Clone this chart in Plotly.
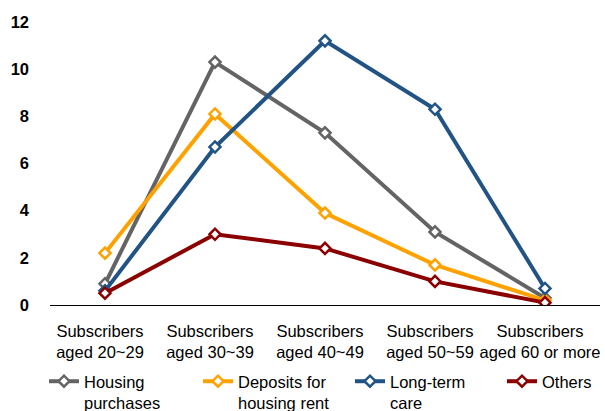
import plotly.graph_objects as go

# Age groups on the x axis
categories = [
    "Subscribers<br>aged 20~29",
    "Subscribers<br>aged 30~39",
    "Subscribers<br>aged 40~49",
    "Subscribers<br>aged 50~59",
    "Subscribers<br>aged 60 or more",
]

# Values per purpose of withdrawal
housing_purchases = [0.9, 10.3, 7.3, 3.1, 0.3]
deposits_housing_rent = [2.2, 8.1, 3.9, 1.7, 0.2]
long_term_care = [0.6, 6.7, 11.2, 8.3, 0.7]
others = [0.5, 3.0, 2.4, 1.0, 0.1]

series_names = ["Housing<br>purchases", "Deposits for<br>housing rent", "Long-term<br>care", "Others"]
series_values = [housing_purchases, deposits_housing_rent, long_term_care, others]
series_colors = ["#646464", "#FFA200", "#215485", "#8B0000"]

y_ticks = [0, 2, 4, 6, 8, 10, 12]

FONT = "Liberation Sans, Arial, sans-serif"

# each legend entry sits in its own legend box so the spacing can be set per item
legend_ids = ["legend", "legend2", "legend3", "legend4"]
legend_x_px = [44, 198, 350, 502]

fig = go.Figure()
x_idx = list(range(len(categories)))
for name, vals, col, lid in zip(series_names, series_values, series_colors, legend_ids):
    fig.add_trace(go.Scatter(
        x=x_idx, y=vals, name=name, mode="lines+markers",
        line=dict(color=col, width=4),
        marker=dict(symbol="diamond", size=8.5, color="white",
                    line=dict(color=col, width=2.5)),
        legend=lid,
    ))

W, H = 605, 411
ml, mr, mt, mb = 50, 5, 22, 106

layout_legends = {}
for lid, px in zip(legend_ids, legend_x_px):
    layout_legends[lid] = dict(
        orientation="h",
        xref="container", x=px / W, xanchor="left",
        yref="container", y=(H - 364) / H, yanchor="top",
        valign="top",
        bgcolor="rgba(0,0,0,0)",
        font=dict(family=FONT, size=16.5, color="black"),
        itemwidth=30,
        tracegroupgap=0,
    )

fig.update_layout(
    width=W, height=H,
    margin=dict(l=ml, r=mr, t=mt, b=mb, autoexpand=False),
    paper_bgcolor="white", plot_bgcolor="white",
    showlegend=True,
    **layout_legends,
)

fig.update_xaxes(
    range=[-0.5, 4.5],
    tickmode="array", tickvals=x_idx, ticktext=categories,
    showgrid=False, zeroline=False,
    showline=True, linecolor="black", linewidth=1.2,
    ticks="", ticklabelstandoff=11, ticklabelshift=-5,
    ticklabeloverflow="allow",
    tickfont=dict(family=FONT, size=16.5, color="black"),
)
fig.update_yaxes(
    range=[0, 12],
    tickmode="array", tickvals=y_ticks, ticktext=[str(v) for v in y_ticks],
    showgrid=False, zeroline=False, showline=False,
    ticks="", ticklabelstandoff=20,
    tickfont=dict(family=FONT, size=16.5, color="black", weight="bold"),
)

fig.write_html("out.html")
